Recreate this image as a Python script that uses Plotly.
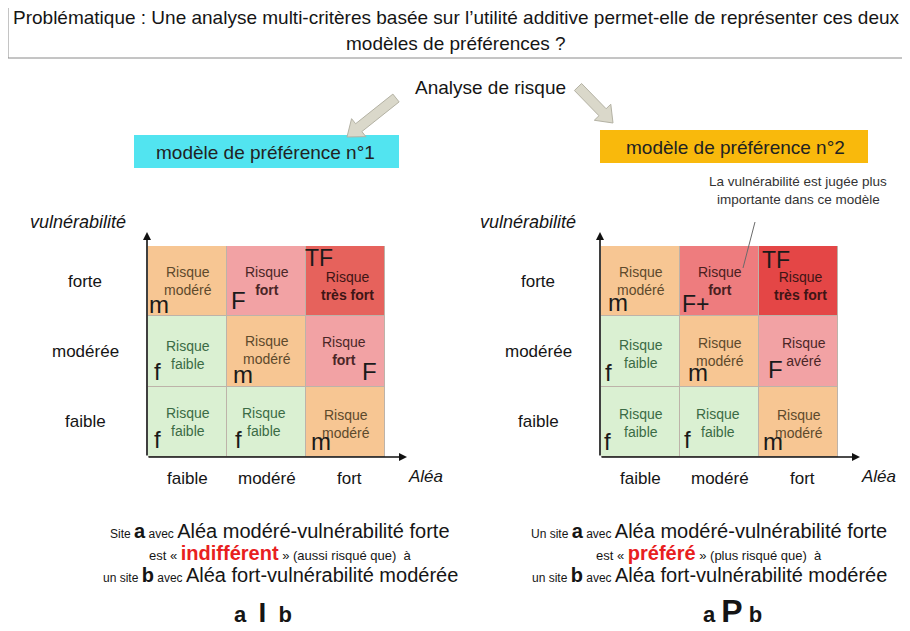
import plotly.graph_objects as go

# page is shown with the browser's default 8px body margin -> figure 902x623 fills 910x631
OFF = 8
W, H = 910 - OFF, 631 - OFF
FONT = "Liberation Sans, Arial, Helvetica, sans-serif"

# ---------------- data ----------------
alea = ["faible", "modéré", "fort"]            # x categories
vuln = ["faible", "modérée", "forte"]          # y categories, bottom -> top

# risk level codes (rows bottom -> top, columns = alea)
levels_m1 = [[0, 0, 1], [0, 1, 2], [1, 2, 4]]
levels_m2 = [[0, 0, 1], [0, 1, 2], [1, 3, 5]]

risk_m1 = [["Risque<br>faible", "Risque<br>faible", "Risque<br>modéré"],
           ["Risque<br>faible", "Risque<br>modéré", "Risque<br><b>fort</b>"],
           ["Risque<br>modéré", "Risque<br><b>fort</b>", "Risque<br><b>très fort</b>"]]
risk_m2 = [["Risque<br>faible", "Risque<br>faible", "Risque<br>modéré"],
           ["Risque<br>faible", "Risque<br>modéré", "Risque<br>avéré"],
           ["Risque<br>modéré", "Risque<br><b>fort</b>", "Risque<br><b>très fort</b>"]]

letters_m1 = [["f", "f", "m"], ["f", "m", "F"], ["m", "F", "TF"]]
letters_m2 = [["f", "f", "m"], ["f", "m", "F"], ["m", "F+", "TF"]]

title_lines = ["Problématique : Une analyse multi-critères basée sur l\u2019utilité additive permet-elle de représenter ces deux",
               "modèles de préférences ?"]
top_label = "Analyse de risque"
model_names = ["modèle de préférence n°1", "modèle de préférence n°2"]
note_lines = ["La vulnérabilité est jugée plus", "importante dans ce modèle"]
axis_names = ["Aléa", "vulnérabilité"]

# ---------------- styles ----------------
level_colors = ["#DAF0D2", "#F7C693", "#F2A2A4", "#EE7C7E", "#E6625C", "#E44646"]
level_text = ["#3B6B45", "#5E4A2C", "#4A2626", "#4A2020", "#3E1515", "#3E1515"]


def px(x):
    return (x - OFF) / W


def py(y):
    return 1 - (y - OFF) / H


def ptext(text, x, y, size, color="#151515", **kw):
    d = dict(text=text, x=px(x), y=py(y), xref="paper", yref="paper", showarrow=False,
             xanchor="center", yanchor="middle", font=dict(family=FONT, size=size, color=color))
    d.update(kw)
    return d


colorscale = []
n = len(level_colors)
for i, c in enumerate(level_colors):
    colorscale.append([i / n, c])
    colorscale.append([(i + 1) / n, c])

# geometry of the two grids (pixels in the 910x631 window)
grids = [dict(x0=148, x1=385, ylab_x=85, origin=147, xend=407, xn="x", yn="y", vx=78, ax_x=425),
         dict(x0=601, x1=838, ylab_x=538, origin=600, xend=860, xn="x2", yn="y2", vx=528, ax_x=878)]
GY0, GY1 = 246, 457
xlab_shift = [0, 0, 4]

# letter label offsets (pixels from cell centre, x right, y down)
letter_off = [
    [[(-30, 18), (-28, 18), (-25, 20)], [(-30, 20), (-24, 23), (24, 20)], [(-29, 23), (-28, 19), (-27, -23)]],
    [[(-33, 20), (-32, 18), (-26, 20)], [(-32, 21), (-22, 21), (-23, 18)], [(-23, 21), (-24, 23), (-23, -21)]],
]
# cell text offsets (pixels, x right, y down)
text_off = [
    [[(0, 0), (-3, 0), (0, 2)], [(0, 3), (0, -2), (-2, -1)], [(0, 0), (0, 0), (2, 5)]],
    [[(0, 1), (-2, 1), (0, 2)], [(0, 2), (0, 0), (5, 0)], [(0, 0), (0, 0), (2, 5)]],
]

fig = go.Figure()
for k, (lv, g) in enumerate(zip([levels_m1, levels_m2], grids)):
    fig.add_trace(go.Heatmap(
        z=lv, x=alea, y=vuln, colorscale=colorscale, zmin=-0.5, zmax=n - 0.5,
        showscale=False, xgap=1, ygap=1, hoverinfo="skip",
        xaxis=g["xn"], yaxis=g["yn"]))

annotations = []
shapes = []

# title box
shapes.append(dict(type="rect", xref="paper", yref="paper", x0=px(8), x1=px(905), y0=py(58), y1=py(3),
                   line=dict(color="#8A8A8A", width=1), fillcolor="white", layer="below"))
for t, yy in zip(title_lines, [18, 43]):
    annotations.append(ptext(t, 456, yy, 19))

annotations.append(ptext(top_label, 490, 87, 19))

# model header boxes
boxes = [dict(x0=134, x1=399, y0=135, y1=168, fill="#52E4F0", cx=265, cy=152),
         dict(x0=600, x1=868, y0=130, y1=163, fill="#F9B90C", cx=735, cy=147)]
for b, name in zip(boxes, model_names):
    shapes.append(dict(type="rect", xref="paper", yref="paper", x0=px(b["x0"]), x1=px(b["x1"]),
                       y0=py(b["y1"]), y1=py(b["y0"]), line=dict(width=0), fillcolor=b["fill"]))
    annotations.append(ptext(name, b["cx"], b["cy"], 19, "#222222"))


# block arrows
def block_arrow(tail, head, shaft=5.0, headw=11.5, headl=15.0):
    import math
    dx, dy = head[0] - tail[0], head[1] - tail[1]
    L = math.hypot(dx, dy)
    ux, uy = dx / L, dy / L
    nx, ny = -uy, ux
    nk = (head[0] - ux * headl, head[1] - uy * headl)
    pts = [(tail[0] + nx * shaft, tail[1] + ny * shaft),
           (nk[0] + nx * shaft, nk[1] + ny * shaft),
           (nk[0] + nx * headw, nk[1] + ny * headw),
           head,
           (nk[0] - nx * headw, nk[1] - ny * headw),
           (nk[0] - nx * shaft, nk[1] - ny * shaft),
           (tail[0] - nx * shaft, tail[1] - ny * shaft)]
    path = "M " + " L ".join(f"{px(a):.5f},{py(b):.5f}" for a, b in pts) + " Z"
    return dict(type="path", xref="paper", yref="paper", path=path,
                fillcolor="#DAD8CA", line=dict(color="#B4B2A4", width=1))


shapes.append(block_arrow((396, 98), (347, 137)))
shapes.append(block_arrow((578, 87), (613, 123)))

# note + leader line
for t, yy in zip(note_lines, [182, 199]):
    annotations.append(ptext(t, 798, yy, 13.5, "#333333"))
shapes.append(dict(type="line", xref="paper", yref="paper", x0=px(755), y0=py(222), x1=px(743), y1=py(268),
                   line=dict(color="#6A6A6A", width=1)))

layout_axes = {}
for k, g in enumerate(grids):
    xa = "xaxis" if k == 0 else "xaxis2"
    ya = "yaxis" if k == 0 else "yaxis2"
    layout_axes[xa] = dict(domain=[px(g["x0"]), px(g["x1"])], type="category", categoryorder="array",
                           categoryarray=alea, range=[-0.5, 2.5], showgrid=False, zeroline=False,
                           showticklabels=False, ticks="", showline=False, fixedrange=True,
                           anchor=g["yn"])
    layout_axes[ya] = dict(domain=[py(GY1), py(GY0)], type="category", categoryorder="array",
                           categoryarray=vuln, range=[-0.5, 2.5], showgrid=False, zeroline=False,
                           showticklabels=False, ticks="", showline=False, fixedrange=True,
                           anchor=g["xn"])
    # axis arrows
    annotations.append(dict(x=px(g["origin"]), y=py(232), xref="paper", yref="paper", ax=0,
                            ay=GY1 - 232, text="", showarrow=True, arrowhead=2, arrowsize=1,
                            arrowwidth=1.6, arrowcolor="#111111"))
    annotations.append(dict(x=px(g["xend"]), y=py(GY1), xref="paper", yref="paper",
                            ax=-(g["xend"] - g["origin"]), ay=0, text="", showarrow=True, arrowhead=2,
                            arrowsize=1, arrowwidth=1.6, arrowcolor="#111111"))
    # tick labels
    for c, sh in zip(alea, xlab_shift):
        annotations.append(dict(text=c, x=c, xref=g["xn"], y=py(478), yref="paper", showarrow=False,
                                xanchor="center", yanchor="middle", xshift=sh,
                                font=dict(family=FONT, size=17, color="#151515")))
    for c in vuln:
        annotations.append(dict(text=c, y=c, yref=g["yn"], x=px(g["ylab_x"]), xref="paper",
                                showarrow=False, xanchor="center", yanchor="middle",
                                font=dict(family=FONT, size=17, color="#151515")))
    annotations.append(ptext("<i>" + axis_names[0] + "</i>", g["ax_x"], 476, 17))
    annotations.append(ptext("<i>" + axis_names[1] + "</i>", g["vx"], 222, 18))

    risk = risk_m1 if k == 0 else risk_m2
    lets = letters_m1 if k == 0 else letters_m2
    lv = levels_m1 if k == 0 else levels_m2
    for r in range(3):
        for c in range(3):
            tx, ty = text_off[k][r][c]
            annotations.append(dict(text=risk[r][c], x=alea[c], y=vuln[r], xref=g["xn"], yref=g["yn"],
                                    showarrow=False, xshift=tx, yshift=-ty, xanchor="center",
                                    yanchor="middle",
                                    font=dict(family=FONT, size=14, color=level_text[lv[r][c]])))
            ox, oy = letter_off[k][r][c]
            annotations.append(dict(text=lets[r][c], x=alea[c], y=vuln[r], xref=g["xn"], yref=g["yn"],
                                    showarrow=False, xshift=ox, yshift=-oy, xanchor="center",
                                    yanchor="middle",
                                    font=dict(family=FONT, size=23 if len(lets[r][c]) > 1 else 24,
                                              color="#1A1A1A")))

# bottom texts
SM = '<span style="font-size:12px">'
S = '<span style="font-size:13px">'
E = '</span>'
HL = '<b><span style="font-size:20px;color:#E8201E">'
left_lines = [
    f'{SM}Site {E}<b>a</b>{SM} avec {E}Aléa modéré-vulnérabilité forte',
    f'{S}est « {E}{HL}indifférent</span></b>{S} » (aussi risqué que)  à{E}',
    f'{SM}un site {E}<b>b</b>{SM} avec {E}Aléa fort-vulnérabilité modérée',
]
right_lines = [
    f'{SM}Un site {E}<b>a</b>{SM} avec {E}Aléa modéré-vulnérabilité forte',
    f'{S}est « {E}{HL}préféré</span></b>{S} » (plus risqué que)  à{E}',
    f'{SM}un site {E}<b>b</b>{SM} avec {E}Aléa fort-vulnérabilité modérée',
]
relations = ['<b>a  </b><b><span style="font-size:28px">I</span></b><b>  b</b>',
             '<b>a </b><b><span style="font-size:32px">P</span></b><b> b</b>']

for lines, cx in [(left_lines, 280), (right_lines, 709)]:
    for t, yy in zip(lines, [531, 553, 575]):
        annotations.append(ptext(t, cx, yy, 20))
annotations.append(ptext(relations[0], 263, 612, 22))
annotations.append(ptext(relations[1], 732, 611, 22))

fig.update_layout(
    width=W, height=H, margin=dict(l=0, r=0, t=0, b=0),
    paper_bgcolor="white", plot_bgcolor="#BDB3A9",
    showlegend=False, annotations=annotations, shapes=shapes,
    font=dict(family=FONT),
    **layout_axes,
)

fig.write_html("out.html")
